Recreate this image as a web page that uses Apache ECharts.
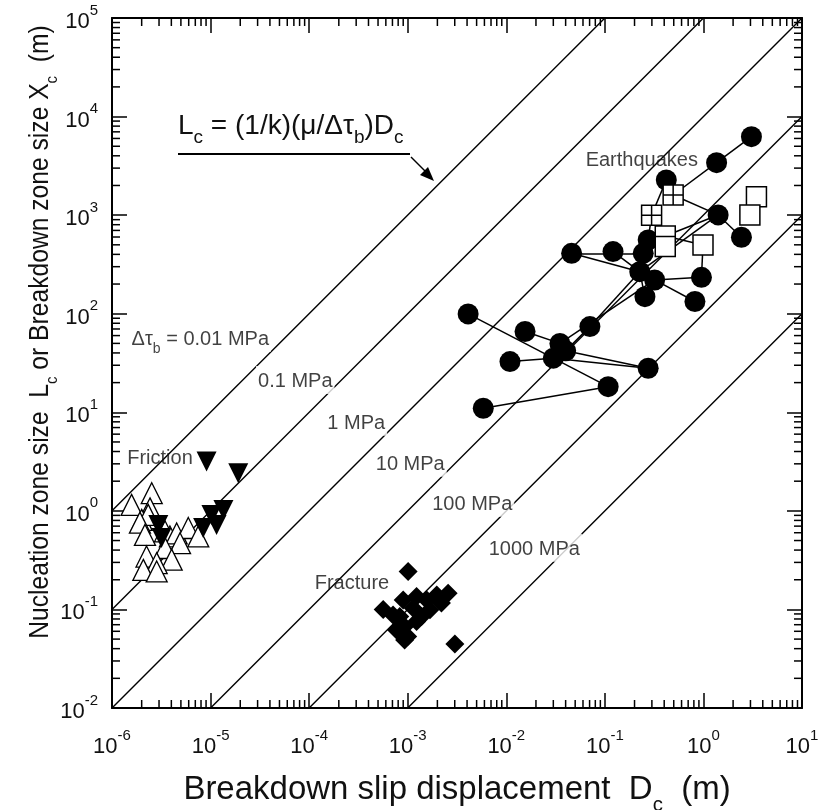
<!DOCTYPE html>
<html><head><meta charset="utf-8">
<script src="https://cdn.jsdelivr.net/npm/echarts@6/dist/echarts.min.js"></script>
<style>html,body{margin:0;padding:0;background:#fff}#c{width:820px;height:810px}</style>
</head><body><div id="c"></div>
<script>
// ---- data ----
const xRange = [1e-6, 10];
const yRange = [1e-2, 1e5];
const stressDropsMPa = [0.01, 0.1, 1, 10, 100, 1000];
const stressLabels = ['{t|Δτ}{sub|b}{t| = 0.01 MPa}', '{t|0.1 MPa}', '{t|1 MPa}', '{t|10 MPa}', '{t|100 MPa}', '{t|1000 MPa}'];
const stressLabelL = [56.9, 21.3, 8.0, 3.07, 1.205, 0.422];
const stressLabelGap = [14, 7, 11, 9, 0, -14];

const eqCircles = [
  [3.07, 6250], [1.36, 3410], [0.42, 2275], [1.41, 1005], [2.43, 597],
  [0.275, 560], [0.046, 410], [0.121, 427], [0.245, 410], [0.226, 267],
  [0.32, 220], [0.955, 234], [0.255, 149], [0.82, 133], [0.0041, 99.5],
  [0.0155, 66], [0.0705, 74], [0.035, 50], [0.030, 35.4], [0.0109, 32.7],
  [0.275, 28], [0.108, 18.2], [0.00584, 11], [0.04, 42]
];
const eqSquares = [[3.45, 1540], [2.96, 1005], [0.99, 499], [0.41, 615], [0.41, 480]];
const eqCrossed = [[0.493, 1600], [0.298, 1000]];
const eqLinks = [
  ['c0','c1'], ['c1','x0'], ['x0','c3'], ['c2','x1'], ['x1','c5'], ['c3','c4'],
  ['c3','s3'], ['c3','c9'], ['s3','s2'], ['s2','c11'], ['c11','c10'], ['c10','c13'],
  ['c9','c12'], ['c6','c9'], ['c6','c8'], ['c7','c9'], ['c9','c16'], ['c10','c17'],
  ['c16','c23'], ['c14','c18'], ['c15','c17'], ['c19','c18'], ['c18','c20'],
  ['c23','c20'], ['c18','c21'], ['c22','c21'], ['c17','c18']
];
const frictionUp = [
  [1.58e-6, 1.15], [2.53e-6, 1.51], [2.43e-6, 1.06], [2.0e-6, 0.81], [2.33e-6, 0.91],
  [1.92e-6, 0.76], [2.16e-6, 0.57], [3.45e-6, 0.62], [3.87e-6, 0.55], [4.53e-6, 0.59],
  [5.94e-6, 0.67], [7.5e-6, 0.55], [4.9e-6, 0.47], [3.45e-6, 0.42], [2.24e-6, 0.344],
  [4.03e-6, 0.32], [2.84e-6, 0.295], [2.08e-6, 0.252], [2.84e-6, 0.243]
];
const frictionDown = [
  [9.1e-6, 3.16], [1.91e-5, 2.41], [1.35e-5, 1.02], [1.02e-5, 0.91], [1.15e-5, 0.72],
  [8.4e-6, 0.67], [2.95e-6, 0.72], [3.18e-6, 0.53]
];
const fracture = [
  [1.01e-3, 0.242], [5.64e-4, 0.10], [3.01e-3, 0.0445], [9.0e-4, 0.125], [1.23e-3, 0.135],
  [1.56e-3, 0.125], [1.97e-3, 0.14], [2.57e-3, 0.146], [2.2e-3, 0.116], [1.68e-3, 0.099],
  [1.14e-3, 0.103], [8.3e-4, 0.085], [9.3e-4, 0.067], [7.7e-4, 0.062], [1.0e-3, 0.053],
  [1.23e-3, 0.0755], [1.38e-3, 0.085], [9.3e-4, 0.049], [7.1e-4, 0.088]
];
const groupLabels = [
  {text: 'Friction', at: [3.07e-6, 3.53]},
  {text: 'Fracture', at: [2.72e-4, 0.19]},
  {text: 'Earthquakes', at: [0.237, 3800]}
];
const xTitle = '{t|Breakdown slip displacement  D}{sub|c}{t|  (m)}';
const yTitle = '{t|Nucleation zone size  L}{sub|c}{t| or Breakdown zone size X}{sub|c}{t|  (m)}';

// ---- build ----
const FONT = '"Liberation Sans", Arial, Helvetica, sans-serif';
const INK = '#111';
const chart = echarts.init(document.getElementById('c'), null, {renderer: 'canvas'});

const pts = {c: eqCircles, s: eqSquares, x: eqCrossed};
const ref = k => pts[k[0]][+k.slice(1)];
const linkData = eqLinks.map(([a, b]) => ({coords: [ref(a), ref(b)]}));

function minorVals(lo, hi) {
  const out = [];
  for (let e = lo; e < hi; e++) for (let k = 2; k <= 9; k++) out.push(k * Math.pow(10, e));
  return out;
}
const xMinor = minorVals(-6, 1);
const yMinor = minorVals(-2, 5);

const supFmt = v => {
  const e = Math.round(Math.log10(v));
  return '{b|10}{s|' + e + '}';
};
const tickRich = {
  b: {fontSize: 22, fontFamily: FONT, color: INK, lineHeight: 30, verticalAlign: 'bottom'},
  s: {fontSize: 15, fontFamily: FONT, color: INK, lineHeight: 30, verticalAlign: 'top'}
};

const axisCommon = {
  type: 'log', logBase: 10,
  axisLine: {show: true, onZero: false, lineStyle: {color: '#000', width: 2}},
  axisTick: {show: true, inside: true, length: 15, lineStyle: {color: '#000', width: 1.5}},
  splitLine: {show: false}, minorTick: {show: false}
};

const diagLines = stressDropsMPa.map(s => {
  const C = 1e4 / s;
  const d1 = Math.max(xRange[0], yRange[0] / C);
  const d2 = Math.min(xRange[1], yRange[1] / C);
  return {
    type: 'line', data: [[d1, C * d1], [d2, C * d2]], symbol: 'none', z: 1,
    lineStyle: {color: '#000', width: 1.4}, silent: true, animation: false
  };
});

const labelRich = {
  t: {fontSize: 20, fontFamily: FONT, color: INK, lineHeight: 24, verticalAlign: 'bottom'},
  sub: {fontSize: 14, fontFamily: FONT, color: INK, lineHeight: 24, verticalAlign: 'bottom', padding: [0, 0, -6, 0]}
};

const lineLabelSeries = {
  type: 'scatter', symbolSize: 0, z: 5, silent: true, animation: false,
  data: stressDropsMPa.map((s, i) => ({
    value: [stressLabelL[i] * s / 1e4, stressLabelL[i]],
    label: {show: true, position: 'left', distance: stressLabelGap[i], formatter: stressLabels[i],
      backgroundColor: '#fff', padding: [2, 2, 2, 2], rich: labelRich}
  }))
};

const groupLabelSeries = {
  type: 'scatter', symbolSize: 0, z: 5, silent: true, animation: false,
  data: groupLabels.map(g => ({
    value: g.at,
    label: {show: true, position: 'inside', formatter: '{t|' + g.text + '}', rich: labelRich}
  }))
};

function tickSeries(vals, isX) {
  return {
    type: 'custom', coordinateSystem: 'cartesian2d', silent: true, animation: false, clip: false, z: 3,
    data: vals.map(v => isX ? [v, yRange[0]] : [xRange[0], v]),
    encode: {x: 0, y: 1},
    renderItem: (params, api) => {
      const st = {stroke: '#000', lineWidth: 1.5};
      if (isX) {
        const v = api.value(0);
        const b = api.coord([v, yRange[0]]);
        const t = api.coord([v, yRange[1]]);
        return {type: 'group', children: [
          {type: 'line', shape: {x1: b[0], y1: b[1], x2: b[0], y2: b[1] - 8}, style: st},
          {type: 'line', shape: {x1: t[0], y1: t[1], x2: t[0], y2: t[1] + 8}, style: st}
        ]};
      } else {
        const v = api.value(1);
        const l = api.coord([xRange[0], v]);
        const r = api.coord([xRange[1], v]);
        return {type: 'group', children: [
          {type: 'line', shape: {x1: l[0], y1: l[1], x2: l[0] + 8, y2: l[1]}, style: st},
          {type: 'line', shape: {x1: r[0], y1: r[1], x2: r[0] - 8, y2: r[1]}, style: st}
        ]};
      }
    }
  };
}

const titleRich = (fs) => ({
  t: {fontSize: fs, fontFamily: FONT, fill: INK, lineHeight: fs + 8, verticalAlign: 'bottom'},
  sub: {fontSize: Math.round(fs * 0.62), fontFamily: FONT, fill: INK, lineHeight: fs + 8, verticalAlign: 'bottom', padding: [0, 0, -Math.round(fs * 0.25), 0]}
});

const option = {
  backgroundColor: '#fff',
  animation: false,
  grid: {left: 112, top: 18, right: 18, bottom: 102, containLabel: false, outerBoundsMode: 'none'},
  xAxis: [
    Object.assign({}, axisCommon, {
      position: 'bottom', min: xRange[0], max: xRange[1],
      axisLabel: {show: true, margin: 20, formatter: supFmt, rich: tickRich, showMinLabel: true, showMaxLabel: true}
    }),
    Object.assign({}, axisCommon, {position: 'top', min: xRange[0], max: xRange[1], axisLabel: {show: false}})
  ],
  yAxis: [
    Object.assign({}, axisCommon, {
      position: 'left', min: yRange[0], max: yRange[1],
      axisLabel: {show: true, margin: 14, formatter: supFmt, rich: tickRich, showMinLabel: true, showMaxLabel: true}
    }),
    Object.assign({}, axisCommon, {position: 'right', min: yRange[0], max: yRange[1], axisLabel: {show: false}})
  ],
  graphic: [
    {type: 'text', x: 457, y: 786, scaleX: 0.97, z: 10, style: {
      text: xTitle, align: 'center', verticalAlign: 'middle', rich: titleRich(34)}},
    {type: 'text', x: 36, y: 332, rotation: Math.PI / 2, scaleX: 0.88, z: 10, style: {
      text: yTitle, align: 'center', verticalAlign: 'middle', rich: titleRich(28)}},
    {type: 'text', left: 178, top: 112, z: 10, style: {
      text: '{t|L}{s|c}{t| = (1/k)(μ/Δτ}{s|b}{t|)D}{s|c}',
      rich: {
        t: {fontSize: 28, fontFamily: FONT, fill: INK, lineHeight: 34, verticalAlign: 'bottom'},
        s: {fontSize: 19, fontFamily: FONT, fill: INK, lineHeight: 34, verticalAlign: 'bottom', padding: [0, 0, -7, 0]}
      }}},
    {type: 'line', z: 10, shape: {x1: 178, y1: 154, x2: 410, y2: 154}, style: {stroke: '#000', lineWidth: 2}},
    {type: 'line', z: 10, shape: {x1: 411, y1: 157, x2: 428, y2: 174}, style: {stroke: '#000', lineWidth: 1.5}},
    {type: 'polygon', z: 10, shape: {points: [[434, 181], [420, 175], [428, 167]]}, style: {fill: '#000'}}
  ],
  series: [
    ...diagLines,
    tickSeries(xMinor, true),
    tickSeries(yMinor, false),
    {type: 'lines', coordinateSystem: 'cartesian2d', data: linkData, z: 2, silent: true,
      lineStyle: {color: '#000', width: 1.5, opacity: 1, curveness: 0}},
    {type: 'scatter', data: frictionUp, symbol: 'triangle', symbolSize: 21, z: 3,
      itemStyle: {color: '#fff', borderColor: '#000', borderWidth: 1.3, opacity: 1}},
    {type: 'scatter', data: frictionDown, symbol: 'triangle', symbolRotate: 180, symbolSize: 20, z: 3,
      itemStyle: {color: '#000', opacity: 1}},
    {type: 'scatter', data: fracture, symbol: 'diamond', symbolSize: [19, 19], z: 3,
      itemStyle: {color: '#000', opacity: 1}},
    {type: 'scatter', data: eqCircles, symbol: 'circle', symbolSize: 21, z: 3,
      itemStyle: {color: '#000', opacity: 1}},
    {type: 'scatter', data: eqSquares, symbol: 'rect', symbolSize: 20, z: 4,
      itemStyle: {color: '#fff', borderColor: '#000', borderWidth: 1.5, opacity: 1}},
    {type: 'scatter', data: eqCrossed, symbol: 'path://M0,0H20V20H0Z M10,0V20 M0,10H20', symbolSize: 20, z: 4,
      itemStyle: {color: '#fff', borderColor: '#000', borderWidth: 1.5, opacity: 1}},
    lineLabelSeries,
    groupLabelSeries
  ]
};
chart.setOption(option);
</script></body></html>
